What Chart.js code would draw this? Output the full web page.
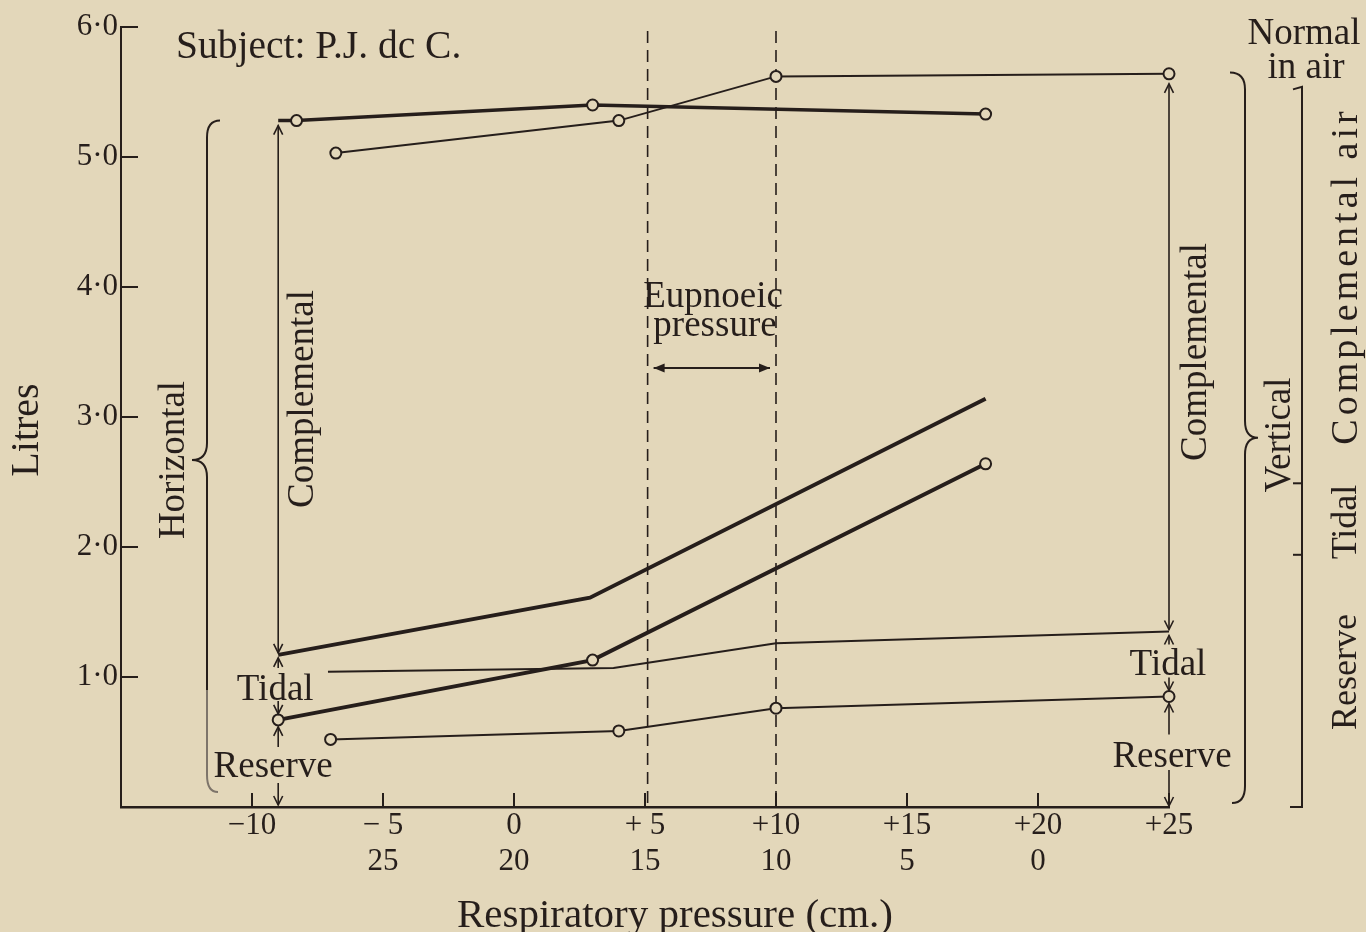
<!DOCTYPE html>
<html>
<head>
<meta charset="utf-8">
<script src="https://cdn.jsdelivr.net/npm/chart.js"></script>
<style>
  html, body { margin: 0; padding: 0; background: #e3d7ba; }
  #wrap { width: 1366px; height: 932px; }
</style>
</head>
<body>
<div id="wrap"><canvas id="chart"></canvas></div>
<script>
// tick labels
const xTicks = [-10, -5, 0, 5, 10, 15, 20, 25];
const xTickTop = ['−10', '− 5', '0', '+ 5', '+10', '+15', '+20', '+25'];
const xTickBottom = ['', '25', '20', '15', '10', '5', '0', ''];
const yTicks = [1, 2, 3, 4, 5, 6];

// horizontal position: total (thick, circles)
const horizTotalX = [-9, -8.3, 3.0, 18.0];
const horizTotalY = [5.28, 5.28, 5.40, 5.33];
// vertical position: total (thin, circles)
const vertTotalX = [-6.8, 4.0, 10.0, 25.0];
const vertTotalY = [5.03, 5.28, 5.62, 5.64];
// horizontal: top of tidal (thick, no marks)
const horizTidalX = [-9, 2.9, 18.0];
const horizTidalY = [1.17, 1.61, 3.14];
// horizontal: reserve (thick, circles)
const horizReserveX = [-9, 3.0, 18.0];
const horizReserveY = [0.67, 1.13, 2.64];
// vertical: top of tidal (thin, no marks)
const vertTidalX = [-7.1, 3.8, 10.0, 25.0];
const vertTidalY = [1.04, 1.07, 1.26, 1.35];
// vertical: reserve (thin, circles)
const vertReserveX = [-7.0, 4.0, 10.0, 25.0];
const vertReserveY = [0.52, 0.585, 0.76, 0.85];

// eupnoeic pressure limits (dashed)
const eupnoeic = [5.1, 10.0];

const ink = '#261e1b';
const paper = '#e3d7ba';
const serif = '"Liberation Serif", "Times New Roman", serif';

function lineSet(xs, ys, width, radius) {
  return {
    data: xs.map((x, i) => ({ x: x, y: ys[i] })),
    borderColor: ink,
    borderWidth: width,
    pointRadius: radius,
    pointHoverRadius: radius,
    pointBackgroundColor: paper,
    pointBorderColor: ink,
    pointBorderWidth: 2,
    tension: 0,
    clip: false
  };
}

function arrowHead(ctx, x, y, dir, size) {
  // dir 1 = points down, -1 = points up
  ctx.beginPath();
  ctx.moveTo(x - size * 0.5, y - dir * size);
  ctx.lineTo(x, y);
  ctx.lineTo(x + size * 0.5, y - dir * size);
  ctx.stroke();
}

function vArrow(ctx, x, yTail, yTip, both) {
  ctx.beginPath();
  ctx.moveTo(x, yTail);
  ctx.lineTo(x, yTip);
  ctx.stroke();
  arrowHead(ctx, x, yTip, yTip > yTail ? 1 : -1, 9);
  if (both) arrowHead(ctx, x, yTail, yTail > yTip ? 1 : -1, 9);
}

function text(ctx, str, x, y, size, align) {
  ctx.font = size + 'px ' + serif;
  ctx.textAlign = align || 'center';
  ctx.textBaseline = 'alphabetic';
  ctx.fillText(str, x, y);
}

function upText(ctx, str, x, y, size, spacing) {
  ctx.save();
  ctx.translate(x, y);
  ctx.rotate(-Math.PI / 2);
  ctx.font = size + 'px ' + serif;
  ctx.textAlign = 'center';
  ctx.textBaseline = 'alphabetic';
  ctx.letterSpacing = (spacing || 0) + 'px';
  ctx.fillText(str, 0, 0);
  ctx.restore();
}

const paperPlugin = {
  id: 'paper',
  beforeDraw(chart) {
    const ctx = chart.ctx;
    ctx.save();
    ctx.fillStyle = paper;
    ctx.fillRect(0, 0, chart.width, chart.height);
    ctx.restore();
  },
  beforeDatasetsDraw(chart) {
    const ctx = chart.ctx;
    const xs = chart.scales.x, ys = chart.scales.y;
    ctx.save();
    ctx.strokeStyle = ink;
    ctx.lineWidth = 1.6;
    ctx.setLineDash([12, 7]);
    eupnoeic.forEach(v => {
      const X = xs.getPixelForValue(v);
      ctx.beginPath();
      ctx.moveTo(X, chart.chartArea.top + 4);
      ctx.lineTo(X, ys.getPixelForValue(0));
      ctx.stroke();
    });
    ctx.restore();
  }
};

const notesPlugin = {
  id: 'notes',
  afterDraw(chart) {
    const ctx = chart.ctx;
    const xs = chart.scales.x, ys = chart.scales.y;
    const px = v => xs.getPixelForValue(v);
    const py = v => ys.getPixelForValue(v);
    const area = chart.chartArea;
    ctx.save();
    ctx.strokeStyle = ink;
    ctx.fillStyle = ink;
    ctx.lineWidth = 2;

    // inward tick marks
    xTicks.forEach(v => {
      ctx.beginPath();
      ctx.moveTo(px(v), area.bottom);
      ctx.lineTo(px(v), area.bottom - 14);
      ctx.stroke();
    });
    yTicks.forEach(v => {
      ctx.beginPath();
      ctx.moveTo(area.left, py(v));
      ctx.lineTo(area.left + 17, py(v));
      ctx.stroke();
    });

    ctx.lineWidth = 1.6;
    // left column (horizontal position)
    const L = px(-9);
    vArrow(ctx, L, py(horizTotalY[0]) + 5, py(horizTidalY[0]) - 2, true);
    vArrow(ctx, L, py(horizTidalY[0]) + 13, py(horizTidalY[0]) + 3);
    vArrow(ctx, L, py(horizReserveY[0]) - 19, py(horizReserveY[0]) - 6);
    vArrow(ctx, L, py(horizReserveY[0]) + 27, py(horizReserveY[0]) + 7);
    vArrow(ctx, L, py(0) - 24, py(0) - 2);
    text(ctx, 'Tidal', L - 3, 700, 37);
    text(ctx, 'Reserve', L - 5, 777, 37);
    upText(ctx, 'Complemental', 313, 399, 37);

    // right column (vertical position)
    const R = px(25);
    vArrow(ctx, R, py(vertTotalY[3]) + 10, py(vertTidalY[3]) - 2, true);
    vArrow(ctx, R, py(vertTidalY[3]) + 13, py(vertTidalY[3]) + 4);
    vArrow(ctx, R, py(vertReserveY[3]) - 19, py(vertReserveY[3]) - 6);
    vArrow(ctx, R, py(vertReserveY[3]) + 38, py(vertReserveY[3]) + 7);
    vArrow(ctx, R, py(0) - 37, py(0) - 1);
    text(ctx, 'Tidal', R - 1, 675, 37);
    text(ctx, 'Reserve', R + 3, 767, 37);
    upText(ctx, 'Complemental', 1206, 352, 37);

    // eupnoeic pressure
    const ey = 368, e0 = px(eupnoeic[0]) + 6, e1 = px(eupnoeic[1]) - 6;
    ctx.beginPath();
    ctx.moveTo(e0, ey);
    ctx.lineTo(e1, ey);
    ctx.lineWidth = 2.2;
    ctx.stroke();
    [[e0, 1], [e1, -1]].forEach(([x, d]) => {
      ctx.beginPath();
      ctx.moveTo(x, ey);
      ctx.lineTo(x + d * 11, ey - 4.5);
      ctx.lineTo(x + d * 11, ey + 4.5);
      ctx.closePath();
      ctx.fill();
    });
    ctx.lineWidth = 1.6;
    text(ctx, 'Eupnoeic', 713, 307, 37);
    text(ctx, 'pressure', 715, 336, 37);

    // left brace "Horizontal"
    const bx = 207, bt = py(5.28), bm = py(2.67), bb = py(0.115);
    ctx.lineWidth = 2;
    ctx.beginPath();
    ctx.moveTo(bx + 13, bt);
    ctx.quadraticCurveTo(bx, bt, bx, bt + 17);
    ctx.lineTo(bx, bm - 17);
    ctx.quadraticCurveTo(bx, bm, bx - 15, bm);
    ctx.quadraticCurveTo(bx, bm, bx, bm + 17);
    ctx.lineTo(bx, py(0.9));
    ctx.stroke();
    ctx.strokeStyle = '#7d746a';
    ctx.beginPath();
    ctx.moveTo(bx, py(0.9));
    ctx.lineTo(bx, bb - 17);
    ctx.quadraticCurveTo(bx, bb, bx + 11, bb);
    ctx.stroke();
    ctx.strokeStyle = ink;
    upText(ctx, 'Horizontal', 184, 460, 37);

    // right brace "Vertical"
    const rx = 1245, rt = py(5.65), rm = py(2.84), rb = py(0.03);
    ctx.beginPath();
    ctx.moveTo(rx - 15, rt);
    ctx.quadraticCurveTo(rx, rt, rx, rt + 17);
    ctx.lineTo(rx, rm - 17);
    ctx.quadraticCurveTo(rx, rm, rx + 13, rm);
    ctx.quadraticCurveTo(rx, rm, rx, rm + 17);
    ctx.lineTo(rx, rb - 17);
    ctx.quadraticCurveTo(rx, rb, rx - 13, rb);
    ctx.stroke();
    upText(ctx, 'Vertical', 1290, 435, 37);

    // far right scale of normal air
    const fx = 1302;
    ctx.beginPath();
    ctx.moveTo(fx - 9, py(5.52));
    ctx.lineTo(fx, py(5.54));
    ctx.lineTo(fx, py(0));
    ctx.lineTo(fx - 12, py(0));
    ctx.stroke();
    [2.49, 1.94].forEach(v => {
      ctx.beginPath();
      ctx.moveTo(fx - 9, py(v));
      ctx.lineTo(fx, py(v));
      ctx.stroke();
    });
    text(ctx, 'Normal', 1304, 44, 37);
    text(ctx, 'in air', 1306, 78, 37);
    upText(ctx, 'Complemental air', 1357, 276, 38, 4);
    upText(ctx, 'Tidal', 1356, 522, 36);
    upText(ctx, 'Reserve', 1356, 672, 36);

    // titles
    text(ctx, 'Subject: P.J. dc C.', 176, 58, 39.5, 'left');
    text(ctx, 'Respiratory pressure (cm.)', 675, 927, 41);
    upText(ctx, 'Litres', 38, 430, 40);
    ctx.restore();
  }
};

new Chart(document.getElementById('chart'), {
  type: 'line',
  data: {
    datasets: [
      Object.assign(lineSet(horizTotalX, horizTotalY, 3.5, 5.5), { pointRadius: [0, 5.5, 5.5, 5.5] }),
      lineSet(vertTotalX, vertTotalY, 2, 5.5),
      lineSet(horizTidalX, horizTidalY, 4, 0),
      lineSet(horizReserveX, horizReserveY, 4, 5.5),
      lineSet(vertTidalX, vertTidalY, 2, 0),
      lineSet(vertReserveX, vertReserveY, 2, 5.5)
    ]
  },
  options: {
    responsive: true,
    maintainAspectRatio: false,
    animation: false,
    devicePixelRatio: 1,
    events: [],
    layout: { padding: { left: 0, top: 27, right: 197, bottom: 0 } },
    plugins: { legend: { display: false }, tooltip: { enabled: false } },
    scales: {
      x: {
        type: 'linear',
        min: -15,
        max: 25,
        afterFit: s => { s.height = 125; },
        afterBuildTicks: s => { s.ticks = xTicks.map(v => ({ value: v })); },
        grid: { display: false, drawTicks: false },
        border: { display: true, color: ink, width: 2.5 },
        ticks: {
          color: ink,
          padding: 1,
          maxRotation: 0,
          autoSkip: false,
          font: { family: serif, size: 31, lineHeight: 1.16 },
          callback: v => {
            const i = xTicks.indexOf(v);
            return xTickBottom[i] ? [xTickTop[i], xTickBottom[i]] : xTickTop[i];
          }
        }
      },
      y: {
        min: 0,
        max: 6,
        afterFit: s => { s.width = 121; },
        afterBuildTicks: s => { s.ticks = yTicks.map(v => ({ value: v })); },
        grid: { display: false, drawTicks: false },
        border: { display: true, color: ink, width: 2 },
        ticks: {
          color: ink,
          padding: 3,
          font: { family: serif, size: 31 },
          callback: v => v.toFixed(1).replace('.', '·')
        }
      }
    }
  },
  plugins: [paperPlugin, notesPlugin]
});
</script>
</body>
</html>
